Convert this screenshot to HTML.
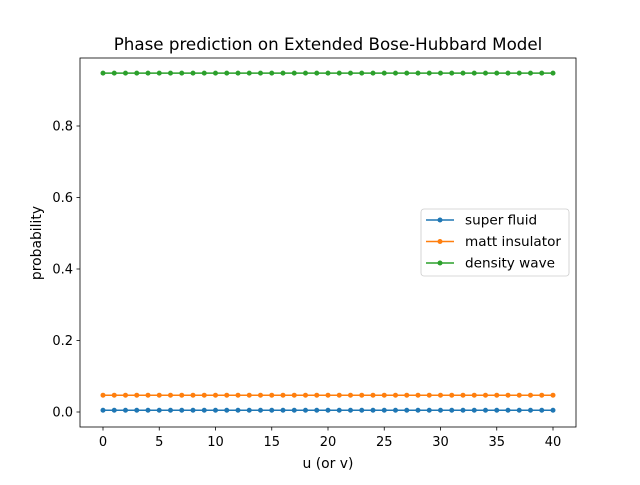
<!DOCTYPE html>
<html><head><meta charset="utf-8"><style>
body{margin:0;background:#fff}
svg text{font-family:"DejaVu Sans","Liberation Sans",sans-serif;fill:#000}
</style></head><body>
<svg id="c" width="640" height="480" xmlns="http://www.w3.org/2000/svg">
<rect width="640" height="480" fill="#fff"/>
<text x="328" y="50" font-size="16.7" text-anchor="middle">Phase prediction on Extended Bose-Hubbard Model</text>
<g id="marks"></g>
<rect x="80" y="58" width="496" height="369" fill="none" stroke="#000" stroke-width="0.8"/>
<g id="axes"></g>
<text x="328" y="468" font-size="13.9" text-anchor="middle">u (or v)</text>
<text transform="translate(41,243) rotate(-90)" font-size="13.9" text-anchor="middle">probability</text>
<g>
<rect x="421" y="209" width="148" height="67" rx="3" fill="#fff" fill-opacity="0.8" stroke="#ccc" stroke-width="0.8"/>
<g id="legend"></g>
</g>
</svg>
<script>
const seriesNames=["super fluid","matt insulator","density wave"];
const colors=["#1f77b4","#ff7f0e","#2ca02c"];
const superFluid=[0.005,0.005,0.005,0.005,0.005,0.005,0.005,0.005,0.005,0.005,0.005,0.005,0.005,0.005,0.005,0.005,0.005,0.005,0.005,0.005,0.005,0.005,0.005,0.005,0.005,0.005,0.005,0.005,0.005,0.005,0.005,0.005,0.005,0.005,0.005,0.005,0.005,0.005,0.005,0.005,0.005];
const mattInsulator=[0.047,0.047,0.047,0.047,0.047,0.047,0.047,0.047,0.047,0.047,0.047,0.047,0.047,0.047,0.047,0.047,0.047,0.047,0.047,0.047,0.047,0.047,0.047,0.047,0.047,0.047,0.047,0.047,0.047,0.047,0.047,0.047,0.047,0.047,0.047,0.047,0.047,0.047,0.047,0.047,0.047];
const densityWave=[0.948,0.948,0.948,0.948,0.948,0.948,0.948,0.948,0.948,0.948,0.948,0.948,0.948,0.948,0.948,0.948,0.948,0.948,0.948,0.948,0.948,0.948,0.948,0.948,0.948,0.948,0.948,0.948,0.948,0.948,0.948,0.948,0.948,0.948,0.948,0.948,0.948,0.948,0.948,0.948,0.948];
const xTicks=[0,5,10,15,20,25,30,35,40];
const yTicks=[0.0,0.2,0.4,0.6,0.8];
const NS="http://www.w3.org/2000/svg";
const xs=v=>103+(v)*11.25;
const ys=v=>412-v*357.5;
function mk(t,a,p){const e=document.createElementNS(NS,t);for(const k in a)e.setAttribute(k,a[k]);p.appendChild(e);return e;}
const ax=document.getElementById('axes');
xTicks.forEach(t=>{
  const l=mk('line',{x1:xs(t),x2:xs(t),y1:427,y2:430.5,stroke:'#000','stroke-width':0.8},ax);
  
  
  const tx=mk('text',{x:xs(t),y:446,'font-size':13,'text-anchor':'middle'},ax);tx.textContent=t;
  
  
});
yTicks.forEach(t=>{
  const l=mk('line',{x1:76.5,x2:80,y1:ys(t),y2:ys(t),stroke:'#000','stroke-width':0.8},ax);
  
  
  const tx=mk('text',{x:73,y:ys(t)+4.5,'font-size':13,'text-anchor':'end'},ax);tx.textContent=t.toFixed(1);
  
  
});
const mg=document.getElementById('marks');
[superFluid,mattInsulator,densityWave].forEach((s,i)=>{
  const g=mk('g',{},mg);
  
  
  mk('polyline',{points:s.map((v,j)=>xs(j)+','+ys(v)).join(' '),fill:'none',stroke:colors[i],'stroke-width':1.5},g);
  s.forEach((v,j)=>{const c=mk('circle',{cx:xs(j),cy:ys(v),r:2.5,fill:colors[i]},g);
    
    });
});
const lg=document.getElementById('legend');
seriesNames.forEach((n,i)=>{
  const y=220+i*21.5;
  const g=mk('g',{},lg);
  
  
  mk('line',{x1:426,x2:454,y1:y,y2:y,stroke:colors[i],'stroke-width':1.5},g);
  mk('circle',{cx:440,cy:y,r:2.5,fill:colors[i]},g);
  const t=mk('text',{x:465,y:y+4.5,'font-size':13.6},g);t.textContent=n;
});
</script>
</body></html>
